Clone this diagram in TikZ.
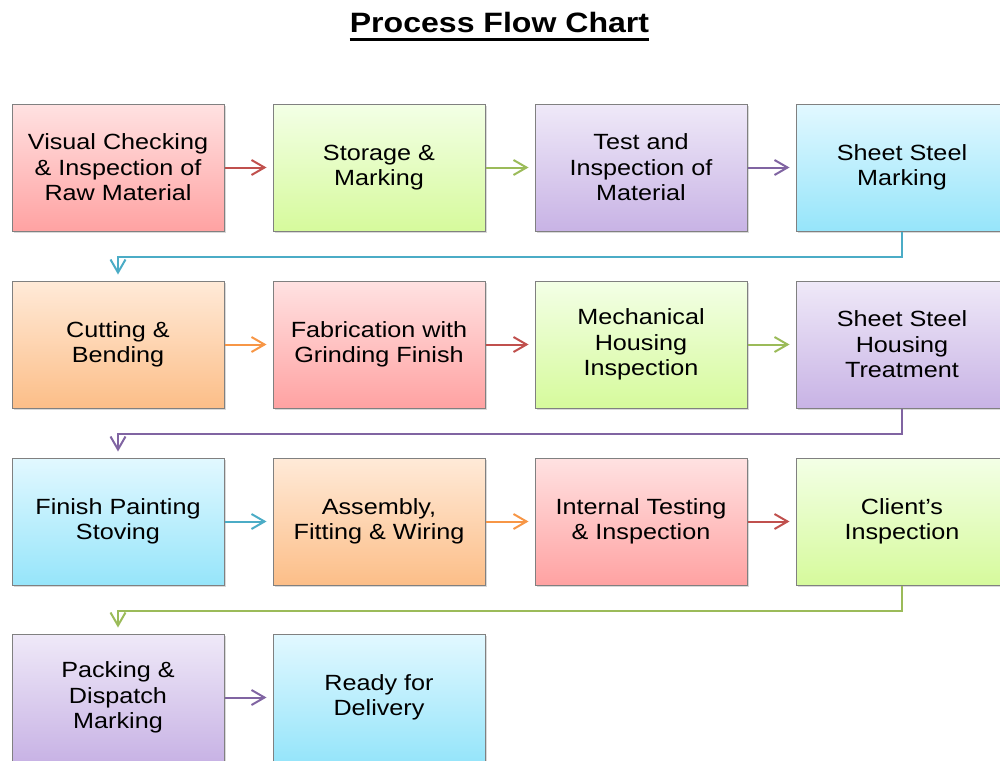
\documentclass[tikz,border=0pt]{standalone}
\usepackage{fontspec}
\setmainfont{Liberation Sans}[FakeStretch=1.145]
\usetikzlibrary{arrows.meta,shadows,calc}

\definecolor{redT}{RGB}{255,226,226}
\definecolor{redB}{RGB}{255,162,162}
\definecolor{greenT}{RGB}{243,255,230}
\definecolor{greenB}{RGB}{214,250,156}
\definecolor{purpleT}{RGB}{239,233,248}
\definecolor{purpleB}{RGB}{200,179,229}
\definecolor{blueT}{RGB}{226,248,255}
\definecolor{blueB}{RGB}{150,229,250}
\definecolor{orangeT}{RGB}{255,234,216}
\definecolor{orangeB}{RGB}{252,190,136}
\definecolor{redA}{RGB}{192,80,77}
\definecolor{greenA}{RGB}{155,187,89}
\definecolor{purpleA}{RGB}{128,100,162}
\definecolor{blueA}{RGB}{75,172,198}
\definecolor{orangeA}{RGB}{247,150,70}
\definecolor{borderC}{RGB}{128,128,128}

\begin{document}
\begin{tikzpicture}[x=1pt,y=-1pt,
  box/.style={rectangle, draw=borderC, line width=1pt,
    minimum width=212pt, minimum height=127pt, inner sep=0pt,
    align=center, font=\fontsize{22}{25.5}\selectfont,
    drop shadow={shadow xshift=1.5pt,shadow yshift=-2pt,opacity=0.3}},
  redbox/.style={box, top color=redT, bottom color=redB},
  greenbox/.style={box, top color=greenT, bottom color=greenB},
  purplebox/.style={box, top color=purpleT, bottom color=purpleB},
  bluebox/.style={box, top color=blueT, bottom color=blueB},
  orangebox/.style={box, top color=orangeT, bottom color=orangeB},
  conn/.style={line width=2pt, shorten >=6pt,
    -{Straight Barb[length=13pt,width=15pt,line width=2pt]}},
]
\useasboundingbox (0,0) rectangle (1000,760);
\clip (0,0) rectangle (1000,760);

\node[anchor=base, inner sep=0pt, font=\fontsize{28}{30}\selectfont\bfseries]
  (title) at (499.5,32.5) {Process Flow Chart};
\draw[line width=3pt] ([yshift=-7pt]title.base west) -- ([yshift=-7pt]title.base east);

% row 1
\node[redbox]    (n1)  at (118,167.5) {Visual Checking\\\& Inspection of\\Raw Material};
\node[greenbox]  (n2)  at (379,167.5) {Storage \&\\Marking};
\node[purplebox] (n3)  at (641,167.5) {Test and\\Inspection of\\Material};
\node[bluebox]   (n4)  at (902,167.5) {Sheet Steel\\Marking};
% row 2
\node[orangebox] (n5)  at (118,344.5) {Cutting \&\\Bending};
\node[redbox]    (n6)  at (379,344.5) {Fabrication with\\Grinding Finish};
\node[greenbox]  (n7)  at (641,344.5) {Mechanical\\Housing\\Inspection};
\node[purplebox] (n8)  at (902,344.5) {Sheet Steel\\Housing\\Treatment};
% row 3
\node[bluebox]   (n9)  at (118,521.5) {Finish Painting\\Stoving};
\node[orangebox] (n10) at (379,521.5) {Assembly,\\Fitting \& Wiring};
\node[redbox]    (n11) at (641,521.5) {Internal Testing\\\& Inspection};
\node[greenbox]  (n12) at (902,521.5) {Client’s\\Inspection};
% row 4
\node[purplebox] (n13) at (118,697.5) {Packing \&\\Dispatch\\Marking};
\node[bluebox]   (n14) at (379,697.5) {Ready for\\Delivery};

% connectors
\draw[conn, redA]    (n1.east) -- (n2.west);
\draw[conn, greenA]  (n2.east) -- (n3.west);
\draw[conn, purpleA] (n3.east) -- (n4.west);
\draw[conn, blueA]   (n4.south) -- ++(0,25) -| (n5.north);
\draw[conn, orangeA] (n5.east) -- (n6.west);
\draw[conn, redA]    (n6.east) -- (n7.west);
\draw[conn, greenA]  (n7.east) -- (n8.west);
\draw[conn, purpleA] (n8.south) -- ++(0,25) -| (n9.north);
\draw[conn, blueA]   (n9.east) -- (n10.west);
\draw[conn, orangeA] (n10.east) -- (n11.west);
\draw[conn, redA]    (n11.east) -- (n12.west);
\draw[conn, greenA]  (n12.south) -- ++(0,25) -| (n13.north);
\draw[conn, purpleA] (n13.east) -- (n14.west);
\end{tikzpicture}
\end{document}
